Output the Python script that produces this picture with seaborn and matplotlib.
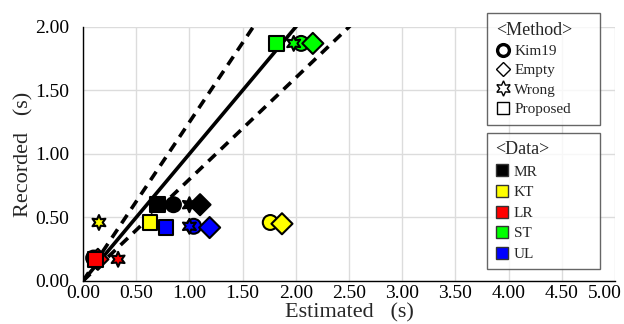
import matplotlib
matplotlib.use("Agg")
import matplotlib.pyplot as plt
import matplotlib.transforms as mtransforms
from matplotlib.lines import Line2D
import seaborn as sns
import pandas as pd
import numpy as np

methods = ["Kim19", "Empty", "Wrong", "Proposed"]
datasets = ["MR", "KT", "LR", "ST", "UL"]

# estimated / recorded per dataset, order follows `methods`
mr_est = [0.85, 1.10, 1.00, 0.70]
mr_rec = [0.60, 0.60, 0.60, 0.60]
kt_est = [1.76, 1.87, 0.15, 0.63]
kt_rec = [0.46, 0.45, 0.46, 0.46]
lr_est = [0.10, 0.14, 0.33, 0.12]
lr_rec = [0.18, 0.17, 0.17, 0.17]
st_est = [2.05, 2.16, 1.98, 1.82]
st_rec = [1.87, 1.87, 1.87, 1.87]
ul_est = [1.04, 1.19, 1.00, 0.78]
ul_rec = [0.43, 0.42, 0.43, 0.42]

ref_slopes = [1.0, 1.25, 0.8]
x_ticks = [0.0, 0.5, 1.0, 1.5, 2.0, 2.5, 3.0, 3.5, 4.0, 4.5, 5.0]
y_ticks = [0.0, 0.5, 1.0, 1.5, 2.0]

est_all = [mr_est, kt_est, lr_est, st_est, ul_est]
rec_all = [mr_rec, kt_rec, lr_rec, st_rec, ul_rec]
rows = []
for d, es, rs in zip(datasets, est_all, rec_all):
    for m, e, r in zip(methods, es, rs):
        rows.append({"Data": d, "Method": m, "Estimated": e, "Recorded": r})
df = pd.DataFrame(rows)

palette = {"MR": "#000000", "KT": "#ffff00", "LR": "#ff0000", "ST": "#00ff00", "UL": "#0000ff"}
star6 = (6, 1, 0)
marker_map = {"Kim19": "o", "Empty": "D", "Wrong": star6, "Proposed": "s"}

sns.set_style("white")
plt.rcParams["font.family"] = ["Liberation Serif", "DejaVu Serif"]

fig = plt.figure(figsize=(6.24, 3.24), dpi=100)
ax = fig.add_axes([0.133, 0.133, 0.8526, 0.784])

xx = np.array([0.0, 5.0])
for s, ls in zip(ref_slopes, ["-", (0, (2.8, 2.0)), (0, (2.8, 2.0))]):
    ax.plot(xx, s * xx, color="black", lw=2.6, linestyle=ls, zorder=2)

sns.scatterplot(data=df, x="Estimated", y="Recorded", hue="Data", style="Method",
                palette=palette, markers=marker_map, s=115, edgecolor="black",
                linewidth=1.5, legend=False, ax=ax, zorder=3)

ax.set_xlim(0, 5)
ax.set_ylim(0, 2)
ax.set_xticks(x_ticks)
ax.set_yticks(y_ticks)
ax.set_xticklabels([f"{v:.2f}" for v in x_ticks])
ax.set_yticklabels([f"{v:.2f}" for v in y_ticks])
ax.grid(True, color="#dcdcdc", lw=1.0)
ax.set_axisbelow(True)
for sp in ["top", "right"]:
    ax.spines[sp].set_visible(False)
for sp in ["left", "bottom"]:
    ax.spines[sp].set_color("black")
    ax.spines[sp].set_linewidth(1.0)
ax.tick_params(direction="in", length=4, width=1, labelsize=14, colors="black")
ax.tick_params(axis="x", pad=3)
ax.tick_params(axis="y", pad=10)
ax.set_xlabel("Estimated   (s)", fontsize=16, labelpad=1)
ax.set_ylabel("Recorded   (s)", fontsize=16, labelpad=1)

# keep the last x tick label inside the canvas
last = ax.get_xticklabels()[-1]
last.set_transform(last.get_transform() +
                   mtransforms.ScaledTranslation(-10 / 100, 0, fig.dpi_scale_trans))

# Method legend
mh = [
    Line2D([], [], marker="o", ls="", mfc="white", mec="black", mew=2.4, ms=8.5),
    Line2D([], [], marker="D", ls="", mfc="white", mec="black", mew=1.0, ms=7),
    Line2D([], [], marker=star6, ls="", mfc="white", mec="black", mew=1.0, ms=11),
    Line2D([], [], marker="s", ls="", mfc="white", mec="black", mew=1.0, ms=9),
]
common = dict(loc="upper left", mode="expand", frameon=True, fancybox=False,
              edgecolor="#404040", fontsize=11, title_fontsize=13,
              handlelength=0.9, handletextpad=0.3,
              alignment="left", borderaxespad=0)
leg1 = ax.legend(mh, methods, title="<Method>", labelspacing=0.36, borderpad=0.6,
                 bbox_to_anchor=(0.759, 1.055, 0.2124, 0.0), **common)
leg1.get_frame().set_linewidth(1.0)
ax.add_artist(leg1)

dh = [Line2D([], [], marker="s", ls="", mfc=palette[d], mec="#333333", mew=1.0, ms=9)
      for d in datasets]
leg2 = ax.legend(dh, datasets, title="<Data>", labelspacing=0.45, borderpad=0.55,
                 bbox_to_anchor=(0.759, 0.583, 0.2124, 0.0), **common)
leg2.get_frame().set_linewidth(1.0)

fig.savefig("out.png", dpi=100)
